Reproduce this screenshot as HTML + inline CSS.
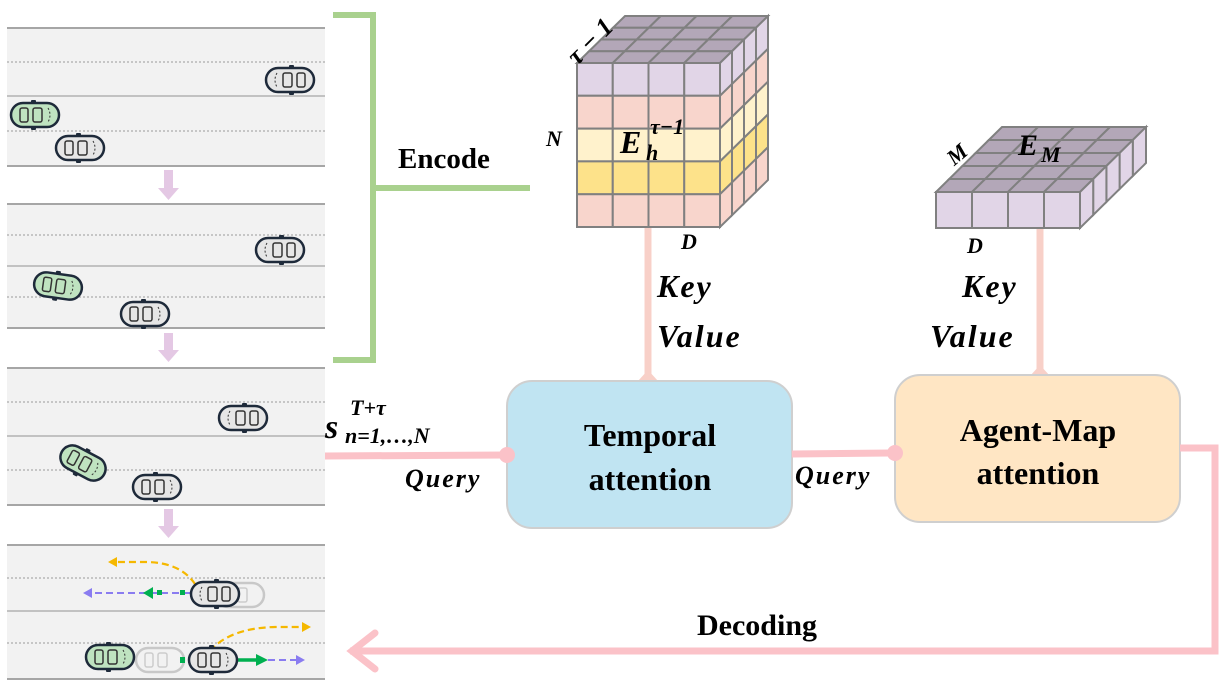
<!DOCTYPE html>
<html><head><meta charset="utf-8"><style>
html,body{margin:0;padding:0;background:#fff;}
svg{display:block}
.t{font-family:"Liberation Serif",serif;font-weight:bold;fill:#000}
.i{font-family:"Liberation Serif",serif;font-weight:bold;font-style:italic;fill:#000}
</style></head><body>
<svg id="s" width="1230" height="684" viewBox="0 0 1230 684" xmlns="http://www.w3.org/2000/svg">
<defs>
<g id="carg">
 <rect x="-4" y="-15" width="5" height="5" rx="1" fill="#1e2a3a"/>
 <rect x="-4" y="10" width="5" height="5" rx="1" fill="#1e2a3a"/>
 <rect x="-24" y="-12" width="48" height="24" rx="12" fill="#e6e6e6" stroke="#1e2a3a" stroke-width="2.5"/>
 <rect x="-15" y="-7" width="8" height="14" rx="2" fill="none" stroke="#333" stroke-width="1.5"/>
 <rect x="-2" y="-7" width="9" height="14" rx="2" fill="none" stroke="#333" stroke-width="1.5"/>
 <path d="M13 -7 Q17 0 13 7" fill="none" stroke="#333" stroke-width="1" stroke-dasharray="2 2"/>
</g>
<g id="carn">
 <rect x="-4" y="-15" width="5" height="5" rx="1" fill="#1e2a3a"/>
 <rect x="-4" y="10" width="5" height="5" rx="1" fill="#1e2a3a"/>
 <rect x="-24" y="-12" width="48" height="24" rx="12" fill="#bfe3c0" stroke="#1e2a3a" stroke-width="2.5"/>
 <rect x="-15" y="-7" width="8" height="14" rx="2" fill="none" stroke="#333" stroke-width="1.5"/>
 <rect x="-2" y="-7" width="9" height="14" rx="2" fill="none" stroke="#333" stroke-width="1.5"/>
 <path d="M13 -7 Q17 0 13 7" fill="none" stroke="#333" stroke-width="1" stroke-dasharray="2 2"/>
</g>
<g id="carr">
 <rect x="-24" y="-12" width="48" height="24" rx="12" fill="#f2f2f2" stroke="#c8c8c8" stroke-width="2.5"/>
 <rect x="-15" y="-7" width="8" height="14" rx="2" fill="none" stroke="#ccc" stroke-width="1.5"/>
 <rect x="-2" y="-7" width="9" height="14" rx="2" fill="none" stroke="#ccc" stroke-width="1.5"/>
</g>
</defs>

<rect x="7" y="28" width="318" height="138" fill="#f2f2f2"/>
<rect x="7" y="204" width="318" height="124" fill="#f2f2f2"/>
<rect x="7" y="368" width="318" height="137" fill="#f2f2f2"/>
<rect x="7" y="545" width="318" height="134" fill="#f2f2f2"/>
<g stroke="#a6a6a6" stroke-width="2">
<line x1="7" y1="28" x2="325" y2="28"/><line x1="7" y1="166" x2="325" y2="166"/>
<line x1="7" y1="204" x2="325" y2="204"/><line x1="7" y1="328" x2="325" y2="328"/>
<line x1="7" y1="368" x2="325" y2="368"/><line x1="7" y1="505" x2="325" y2="505"/>
<line x1="7" y1="545" x2="325" y2="545"/><line x1="7" y1="679" x2="325" y2="679"/>
</g>
<g stroke="#a6a6a6" stroke-width="1.3">
<line x1="7" y1="96" x2="325" y2="96"/><line x1="7" y1="266" x2="325" y2="266"/>
<line x1="7" y1="436" x2="325" y2="436"/><line x1="7" y1="611" x2="325" y2="611"/>
</g>
<g stroke="#999" stroke-width="1" stroke-dasharray="2 2">
<line x1="7" y1="62" x2="325" y2="62"/><line x1="7" y1="131" x2="325" y2="131"/>
<line x1="7" y1="235" x2="325" y2="235"/><line x1="7" y1="297" x2="325" y2="297"/>
<line x1="7" y1="402" x2="325" y2="402"/><line x1="7" y1="470" x2="325" y2="470"/>
<line x1="7" y1="578" x2="325" y2="578"/><line x1="7" y1="643" x2="325" y2="643"/>
</g>
<g fill="#e4c8e4">
<path d="M164 170h9v18h6l-10.5 12l-10.5-12h6z"/>
<path d="M164 333h9v17h6l-10.5 12l-10.5-12h6z"/>
<path d="M164 509h9v17h6l-10.5 12l-10.5-12h6z"/>
</g>
<use href="#carg" transform="translate(290,80) scale(-1,1)"/>
<use href="#carn" transform="translate(35,115)"/>
<use href="#carg" transform="translate(80,148)"/>
<use href="#carg" transform="translate(280,250) scale(-1,1)"/>
<use href="#carn" transform="translate(58,286) rotate(8)"/>
<use href="#carg" transform="translate(145,314)"/>
<use href="#carg" transform="translate(243,418) scale(-1,1)"/>
<use href="#carn" transform="translate(83,463) rotate(28)"/>
<use href="#carg" transform="translate(157,487)"/>
<use href="#carr" transform="translate(240,595)"/>
<use href="#carr" transform="translate(160,660)"/>
<path d="M195 584 Q180 562 145 562 L115 562" fill="none" stroke="#f5b800" stroke-width="2.2" stroke-dasharray="7 4"/>
<path d="M108 562 l9 -5 v10z" fill="#f5b800"/>
<line x1="190" y1="593" x2="90" y2="593" stroke="#8a7cf0" stroke-width="2" stroke-dasharray="7 4"/>
<path d="M83 593 l9 -5 v10z" fill="#8a7cf0"/>
<path d="M143 593 l10 -6 v12z" fill="#00b050"/>
<rect x="157" y="590" width="5" height="5" fill="#00b050"/><rect x="180" y="590" width="5" height="5" fill="#00b050"/>
<use href="#carg" transform="translate(215,594) scale(-1,1)"/>
<path d="M210 651 Q230 628 275 627 L303 627" fill="none" stroke="#f5b800" stroke-width="2.2" stroke-dasharray="7 4"/>
<path d="M311 627 l-9 -5 v10z" fill="#f5b800"/>
<line x1="235" y1="660" x2="298" y2="660" stroke="#8a7cf0" stroke-width="2" stroke-dasharray="7 4"/>
<path d="M305 660 l-9 -5 v10z" fill="#8a7cf0"/>
<line x1="232" y1="660" x2="256" y2="660" stroke="#00b050" stroke-width="3.5"/>
<path d="M268 660 l-12 -6 v12z" fill="#00b050"/>
<rect x="180" y="657" width="5" height="6" fill="#00b050"/>
<use href="#carn" transform="translate(110,657)"/>
<use href="#carg" transform="translate(213,660)"/>

<g stroke="#a9d18e" stroke-width="6" fill="none">
<path d="M333 15 H373 V360 H333"/>
<path d="M373 188 H530"/>
</g>
<text x="398" y="168" class="t" font-size="29">Encode</text>

<g id="cube1"></g>
<g id="cube2"></g>
<text x="558" y="60" class="i" font-size="26" transform="rotate(-45 575 40)">τ − 1</text>
<text x="546" y="146" class="i" font-size="22">N</text>
<text x="681" y="249" class="i" font-size="22">D</text>
<text x="620" y="153" class="i" font-size="32">E</text>
<text x="646" y="160" class="i" font-size="22">h</text>
<text x="650" y="134" class="i" font-size="22">τ−1</text>
<text x="944" y="162" class="i" font-size="22" transform="rotate(-40 955 150)">M</text>
<text x="1018" y="155" class="i" font-size="30">E</text>
<text x="1041" y="162" class="i" font-size="22">M</text>
<text x="967" y="253" class="i" font-size="22">D</text>

<g stroke="#f8d0c8" stroke-width="7">
<line x1="648" y1="228" x2="648" y2="378"/>
<line x1="1040" y1="229" x2="1040" y2="372"/>
</g>
<g fill="#f8d0c8">
<path d="M648 370 l10 11 l-10 11 l-10 -11z"/>
<path d="M1040 365 l10 11 l-10 11 l-10 -11z"/>
</g>
<text x="657" y="297" class="i" font-size="32" letter-spacing="2">Key</text>
<text x="657" y="347" class="i" font-size="32" letter-spacing="2">Value</text>
<text x="962" y="297" class="i" font-size="32" letter-spacing="2">Key</text>
<text x="930" y="347" class="i" font-size="32" letter-spacing="2">Value</text>

<rect x="507" y="381" width="285" height="147" rx="25" fill="#c0e4f2" stroke="#cfcfcf" stroke-width="2"/>
<rect x="895" y="375" width="285" height="147" rx="25" fill="#ffe6c4" stroke="#cfcfcf" stroke-width="2"/>
<text x="650" y="446" class="t" font-size="32" text-anchor="middle">Temporal</text>
<text x="650" y="490" class="t" font-size="32" text-anchor="middle">attention</text>
<text x="1038" y="441" class="t" font-size="32" text-anchor="middle">Agent-Map</text>
<text x="1038" y="484" class="t" font-size="32" text-anchor="middle">attention</text>

<g stroke="#fbc2c8" stroke-width="7" fill="none">
<line x1="325" y1="456" x2="507" y2="455"/>
<line x1="792" y1="454" x2="895" y2="453"/>
<path d="M1180 448 H1215 V651 H350"/>
<path d="M375 633 L352 651 L375 669" stroke-linecap="round"/>
</g>
<circle cx="507" cy="455" r="8" fill="#fbc2c8"/>
<circle cx="895" cy="453" r="8" fill="#fbc2c8"/>

<text x="325" y="438" class="i" font-size="34">s</text>
<text x="350" y="415" class="i" font-size="22">T+τ</text>
<text x="345" y="443" class="i" font-size="22">n=1,…,N</text>
<text x="405" y="487" class="i" font-size="26" letter-spacing="2">Query</text>
<text x="795" y="484" class="i" font-size="26" letter-spacing="2">Query</text>
<text x="697" y="635" class="t" font-size="30">Decoding</text>
</svg>
<script>
(function(){
var NS="http://www.w3.org/2000/svg";
function poly(g,pts,fill){var p=document.createElementNS(NS,"polygon");p.setAttribute("points",pts.map(function(a){return a[0]+","+a[1]}).join(" "));p.setAttribute("fill",fill);p.setAttribute("stroke","#808080");p.setAttribute("stroke-width","2");g.appendChild(p);}
function cube(g,x0,y0,cw,rh,cols,rows,dx,dy,depth,rowColors,topColor){
 for(var d=depth-1;d>=0;d--)for(var c=0;c<cols;c++){
  var ax=x0+c*cw+d*dx, ay=y0+d*dy;
  poly(g,[[ax,ay],[ax+cw,ay],[ax+cw+dx,ay+dy],[ax+dx,ay+dy]],topColor);
 }
 var xr=x0+cols*cw;
 for(var d=depth-1;d>=0;d--)for(var r=0;r<rows;r++){
  var ax=xr+d*dx, ay=y0+r*rh+d*dy;
  poly(g,[[ax,ay],[ax+dx,ay+dy],[ax+dx,ay+dy+rh],[ax,ay+rh]],rowColors[r]);
 }
 for(var r=0;r<rows;r++)for(var c=0;c<cols;c++){
  var ax=x0+c*cw, ay=y0+r*rh;
  poly(g,[[ax,ay],[ax+cw,ay],[ax+cw,ay+rh],[ax,ay+rh]],rowColors[r]);
 }
}
cube(document.getElementById("cube1"),577,63,35.75,32.8,4,5,12,-11.75,4,["#e1d5e7","#f8d5cc","#fff2cc","#fde28a","#f8d5cc"],"#b3a7b8");
cube(document.getElementById("cube2"),936,192,36,36,4,1,13.2,-13,5,["#e1d5e7"],"#b3a7b8");
})();
</script>
</body></html>
